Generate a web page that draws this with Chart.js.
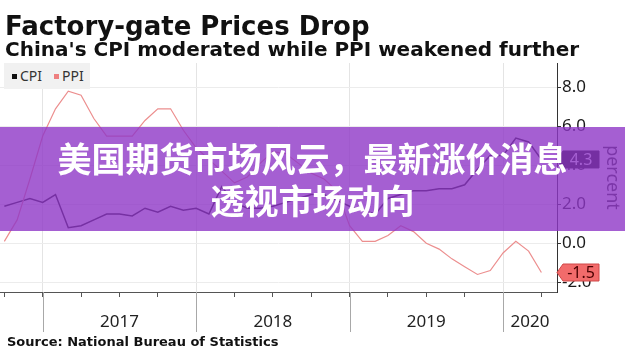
<!DOCTYPE html>
<html>
<head>
<meta charset="utf-8">
<script src="https://cdn.jsdelivr.net/npm/chart.js@4.4.1/dist/chart.umd.min.js"></script>
<style>
html,body{margin:0;padding:0;background:#fff;}
#wrap{position:relative;width:625px;height:358px;overflow:hidden;background:#fff;}
#c{position:absolute;left:0;top:0;}
.t{position:absolute;white-space:nowrap;font-family:"DejaVu Sans",sans-serif;font-weight:bold;color:#111;line-height:1;}
#title{left:5px;top:13px;font-size:26px;}
#subtitle{left:5px;top:39px;font-size:20px;}
#source{left:7px;top:335px;font-size:13px;}
#legend{position:absolute;left:4px;top:63px;width:86px;height:26px;background:#f1f1f1;font-family:"Noto Sans",sans-serif;font-size:14px;color:#333;line-height:26px;}
#legend span.sq{display:inline-block;width:5px;height:5px;vertical-align:middle;margin-right:3px;position:relative;top:-1px;}
#legend span.it{position:absolute;top:0;}
#banner{position:absolute;left:0;top:127px;width:625px;height:104px;background:rgba(142,55,199,0.8);display:flex;flex-direction:column;justify-content:center;align-items:center;}
#banner div{font-family:"Noto Sans CJK SC",sans-serif;font-weight:bold;font-size:34px;line-height:42px;color:#fff;white-space:nowrap;}
</style>
</head>
<body>
<div id="wrap">
  <canvas id="c" width="625" height="358"></canvas>
  <div class="t" id="title">Factory-gate Prices Drop</div>
  <div class="t" id="subtitle">China's CPI moderated while PPI weakened further</div>
  <div id="legend">
    <span class="it" style="left:8px"><span class="sq" style="background:#111"></span>CPI</span>
    <span class="it" style="left:50px"><span class="sq" style="background:#ee7f7f"></span>PPI</span>
  </div>
  <div class="t" id="source">Source: National Bureau of Statistics</div>
  <div id="banner"><div>美国期货市场风云，最新涨价消息</div><div>透视市场动向</div></div>
</div>
<script>
// ---- data (monthly, year-on-year %) ----
const months = [
  '2016-09','2016-10','2016-11','2016-12',
  '2017-01','2017-02','2017-03','2017-04','2017-05','2017-06','2017-07','2017-08','2017-09','2017-10','2017-11','2017-12',
  '2018-01','2018-02','2018-03','2018-04','2018-05','2018-06','2018-07','2018-08','2018-09','2018-10','2018-11','2018-12',
  '2019-01','2019-02','2019-03','2019-04','2019-05','2019-06','2019-07','2019-08','2019-09','2019-10','2019-11','2019-12',
  '2020-01','2020-02','2020-03'
];
const cpi = [
  1.9, 2.1, 2.3, 2.1,
  2.5, 0.8, 0.9, 1.2, 1.5, 1.5, 1.4, 1.8, 1.6, 1.9, 1.7, 1.8,
  1.5, 2.9, 2.1, 1.8, 1.8, 1.9, 2.1, 2.3, 2.5, 2.5, 2.2, 1.9,
  1.7, 1.5, 2.3, 2.5, 2.7, 2.7, 2.8, 2.8, 3.0, 3.8, 4.5, 4.5,
  5.4, 5.2, 4.3
];
const ppi = [
  0.1, 1.2, 3.3, 5.5,
  6.9, 7.8, 7.6, 6.4, 5.5, 5.5, 5.5, 6.3, 6.9, 6.9, 5.8, 4.9,
  4.3, 3.7, 3.1, 3.4, 4.1, 4.7, 4.6, 4.1, 3.6, 3.3, 2.7, 0.9,
  0.1, 0.1, 0.4, 0.9, 0.6, 0.0, -0.3, -0.8, -1.2, -1.6, -1.4, -0.5,
  0.1, -0.4, -1.5
];
const yearLabels = ['2017','2018','2019','2020'];
const yTickValues = [-2,-1,0,1,2,3,4,5,6,7,8,9];
const yLabelEvery = 2;

// month position: months since start of 2017, plotted at end of month
function xOf(m){ const [y,mo] = m.split('-').map(Number); return (y-2017)*12 + mo; }
const xs = months.map(xOf);
const X_MIN = -3.34, X_MAX = 40.22;
const Y_MIN = -2.5, Y_MAX = 9.25;
const yearStarts = yearLabels.map(y => (Number(y)-2017)*12);
const yearLabelPos = yearStarts.map(s => (s + Math.min(s+12, X_MAX))/2);
const quarterTicks = [];
for (let v = Math.ceil(X_MIN/3)*3; v <= X_MAX; v += 3) quarterTicks.push(v);
const xTickValues = Array.from(new Set(quarterTicks.concat(yearLabelPos))).sort((a,b)=>a-b);

const near = (a,b) => Math.abs(a-b) < 1e-6;

const decor = {
  id:'decor',
  afterDraw(chart){
    const {ctx, chartArea, scales:{x, y}} = chart;
    ctx.save();
    // year separators below axis
    ctx.strokeStyle = '#a8a8a8';
    ctx.lineWidth = 1;
    yearStarts.forEach(v => {
      const px = Math.round(x.getPixelForValue(v)) + 0.5;
      ctx.beginPath();
      ctx.moveTo(px, chartArea.bottom);
      ctx.lineTo(px, chartArea.bottom + 40);
      ctx.stroke();
    });
    // last-value tags
    const tags = [
      {val: cpi[cpi.length-1], fill:'#111111', stroke:'#111111', text:'#ffffff'},
      {val: ppi[ppi.length-1], fill:'#f26b6b', stroke:'#d04848', text:'#4a0000'}
    ];
    tags.forEach(t => {
      const yc = y.getPixelForValue(t.val);
      const tip = chartArea.right, h = 8.5;
      ctx.beginPath();
      ctx.moveTo(tip, yc);
      ctx.lineTo(tip+6, yc-h);
      ctx.lineTo(tip+42, yc-h);
      ctx.lineTo(tip+42, yc+h);
      ctx.lineTo(tip+6, yc+h);
      ctx.closePath();
      ctx.fillStyle = t.fill; ctx.fill();
      ctx.strokeStyle = t.stroke; ctx.lineWidth = 1; ctx.stroke();
      ctx.fillStyle = t.text;
      ctx.font = '16px "Noto Sans"';
      ctx.textAlign = 'center'; ctx.textBaseline = 'middle';
      ctx.fillText(t.val.toFixed(1), tip+24, yc+1);
    });
    ctx.restore();
  }
};

new Chart(document.getElementById('c'), {
  type:'line',
  data:{
    datasets:[
      {label:'PPI', data: xs.map((v,i)=>({x:v, y:ppi[i]})), borderColor:'#ec8e8e', borderWidth:1.2, pointRadius:0, tension:0, fill:false},
      {label:'CPI', data: xs.map((v,i)=>({x:v, y:cpi[i]})), borderColor:'#151515', borderWidth:1.5, pointRadius:0, tension:0, fill:false}
    ]
  },
  options:{
    responsive:false, animation:false,
    layout:{padding:{top:63,left:0,right:0,bottom:0}},
    plugins:{legend:{display:false}, tooltip:{enabled:false}},
    scales:{
      x:{
        type:'linear', min:X_MIN, max:X_MAX,
        afterBuildTicks: s => { s.ticks = xTickValues.map(v=>({value:v})); },
        afterFit: s => { s.height = 66; s.paddingLeft = 0; s.paddingRight = 0; },
        ticks:{
          autoSkip:false, maxRotation:0, padding:15,
          color:'#222', font:{family:'Noto Sans', size:17},
          callback: v => { const i = yearLabelPos.findIndex(p=>near(p,v)); return i>=0 ? yearLabels[i] : ''; }
        },
        grid:{
          drawOnChartArea:true, tickLength:5,
          color: c => (c.tick && yearStarts.some(s=>near(s,c.tick.value))) ? '#e4e4e4' : 'rgba(0,0,0,0)',
          tickColor: c => (c.tick && quarterTicks.some(s=>near(s,c.tick.value))) ? '#555' : 'rgba(0,0,0,0)'
        },
        border:{display:true, color:'#555', width:1}
      },
      y:{
        position:'right', min:Y_MIN, max:Y_MAX,
        afterBuildTicks: s => { s.ticks = yTickValues.map(v=>({value:v})); },
        afterFit: s => { s.width = 68; },
        ticks:{
          padding:1, color:'#1a1a1a', font:{family:'Noto Sans', size:17},
          callback: v => (v % yLabelEvery === 0) ? v.toFixed(1) : ''
        },
        grid:{
          tickLength:4,
          color: c => (c.tick && c.tick.value % yLabelEvery === 0) ? '#ececec' : 'rgba(0,0,0,0)',
          tickColor:'#333'
        },
        border:{display:true, color:'#333', width:1},
        title:{display:true, text:'percent', color:'#333', font:{family:'Noto Sans', size:18}, padding:{top:2, bottom:0}}
      }
    }
  },
  plugins:[decor]
});
</script>
</body>
</html>
